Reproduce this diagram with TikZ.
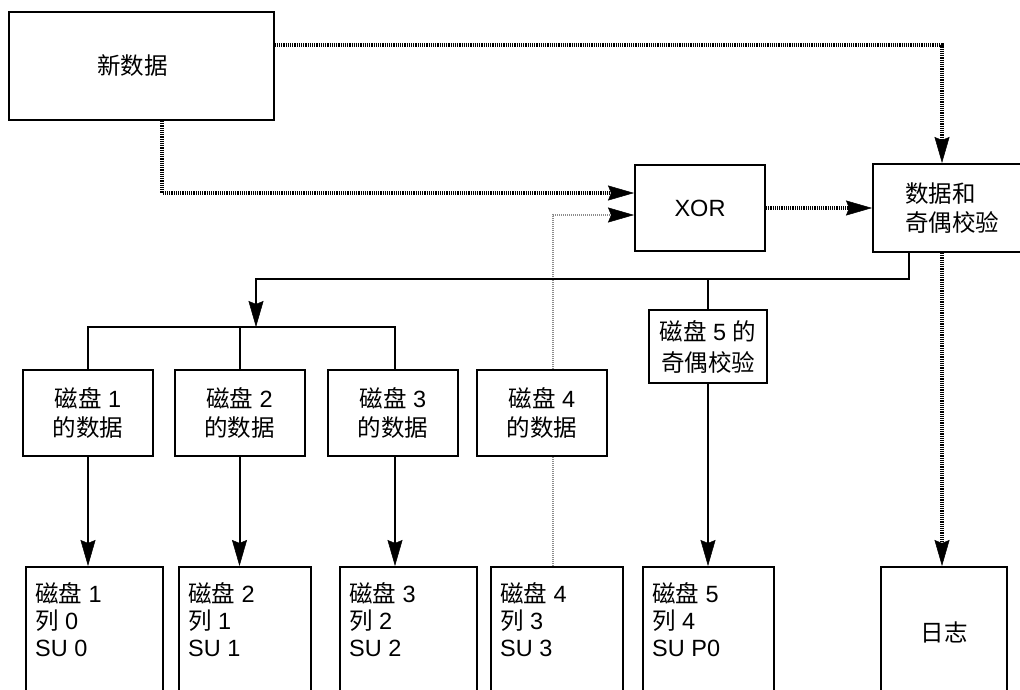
\documentclass[tikz,border=0pt]{standalone}
\usepackage{fontspec}
\setmainfont{Liberation Sans}
\newfontfamily\cjk{Noto Sans CJK SC}
\usetikzlibrary{arrows.meta,positioning,calc}
\tikzset{
  box/.style={draw,line width=2pt,align=center,inner sep=0pt,font=\fontsize{23.5}{29}\selectfont},
  sutxt/.style={align=left,inner sep=0pt,anchor=north west,font=\fontsize{23.5}{27}\selectfont},
  ln/.style={line width=2pt},
  ar/.style={-{Stealth[length=26pt,width=15pt,inset=3pt,line width=0.5pt]},line width=2pt},
  hat/.style={-{Stealth[length=26pt,width=15pt,inset=3pt,line width=0.5pt]},line width=3.5pt,dash pattern=on 1.2pt off 1pt},
  dots/.style={-{Stealth[length=26pt,width=15pt,inset=3pt,line width=0.5pt,color=black]},line width=1.5pt,black!45,dash pattern=on 0.8pt off 1.2pt}
}
\begin{document}
\begin{tikzpicture}[x=1pt,y=-1pt]
\clip (0,0) rectangle (1020,689);
% top row
\node[box,align=left,text width=88pt,inner xsep=88.5pt,minimum height=108pt] (new) at (141,66) {\cjk 新数据};
\node[box,minimum width=130pt,minimum height=86pt] (xor) at (700,208) {XOR};
\node[box,align=left,text width=108pt,inner xsep=32pt,minimum height=88pt] (dp) at (959,208) {{\cjk 数据和}\\{\cjk 奇偶校验}};
% data boxes
\foreach \i/\x in {1/88,2/239.5,3/393,4/542}{
  \node[box,minimum width=130pt,minimum height=86pt] (dd\i) at (\x,413) {{\cjk 磁盘} \i\\{\cjk 的数据}};
}
\node[box,minimum width=118pt,minimum height=73pt,font=\fontsize{23.5}{31}\selectfont] (par) at (708,346.5) {{\cjk 磁盘} 5 {\cjk 的}\\{\cjk 奇偶校验}};
% disks
\foreach \i/\x/\w/\c/\s in {1/94.5/137/0/0,2/245/132/1/1,3/408.5/137/2/2,4/557/132/3/3,5/708.5/131/4/P0}{
  \node[box,minimum width=\w pt,minimum height=130pt] (su\i) at (\x,632) {};
  \node[sutxt] (su\i t) at ([xshift=10pt,yshift=-16pt]su\i.north west) {{\cjk 磁盘} \i\\{\cjk 列} \c\\SU \s};
}
\node[box,minimum width=126pt,minimum height=130pt] (log) at (944,632) {\cjk 日志};
% routing
\coordinate (topy) at (0,45);
\coordinate (colR) at (942,0);
\coordinate (colN) at (162,0);
\coordinate (col4) at (553,0);
\coordinate (colS) at (909,0);
\coordinate (colT) at (256,0);
\coordinate (bus) at (0,279);
\coordinate (tree) at (0,327);
\draw[hat] (new.east |- topy) -| (dp.north -| colR);
\draw[hat] (new.south -| colN) |- ([yshift=15pt]xor.west);
\draw[hat] (xor.east) -- (xor.east -| dp.west);
\draw[dots,-] (su4.north -| col4) -- (dd4.south -| col4);
\draw[dots] (dd4.north -| col4) |- ([yshift=-7pt]xor.west);
\draw[ar] (dp.south -| colS) |- (colT |- bus) -- (colT |- tree);
\draw[ln] (par.north) -- (par.north |- bus);
\draw[ln] (dd1.north) |- ([xshift=2pt]dd3.north |- tree) -- ([xshift=2pt]dd3.north);
\draw[ln] (dd2.north) -- (dd2.north |- tree);
\foreach \i in {1,2}{\draw[ar] (dd\i.south) -- (dd\i.south |- su1.north);}
\draw[ar] ([xshift=2pt]dd3.south) -- ([xshift=2pt]dd3.south |- su3.north);
\draw[ar] (par.south) -- (par.south |- su5.north);
\draw[hat] (dp.south -| colR) -- (log.north -| colR);
\end{tikzpicture}
\end{document}
